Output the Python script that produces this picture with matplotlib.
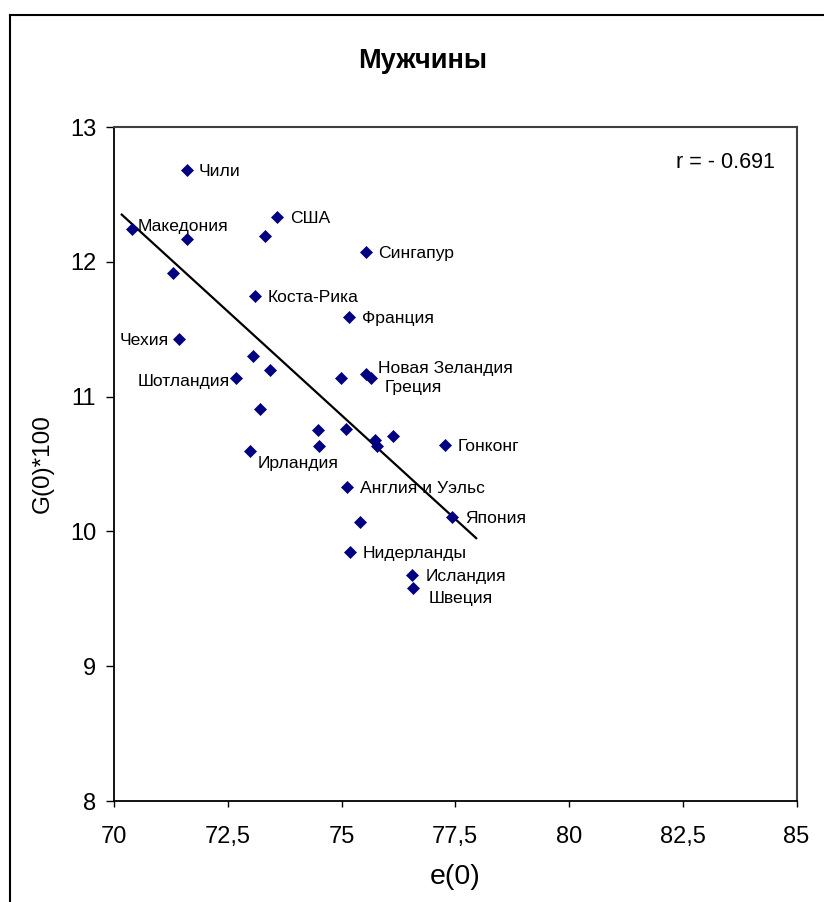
import numpy as np
import matplotlib
matplotlib.use("Agg")
import matplotlib.pyplot as plt
from matplotlib.lines import Line2D

# life expectancy e(0) and G(0)*100, men
e0 = [71.60, 70.40, 71.60, 73.58, 73.31, 75.53, 71.30, 73.09, 75.16, 71.42,
      73.06, 73.43, 72.68, 74.99, 75.53, 75.64, 73.20, 74.48, 75.10, 75.74,
      76.13, 74.51, 75.77, 72.98, 75.12, 75.41, 75.18, 76.56, 76.58, 77.27,
      77.43]
g0 = [12.68, 12.24, 12.17, 12.33, 12.19, 12.07, 11.92, 11.75, 11.59, 11.43,
      11.30, 11.20, 11.14, 11.14, 11.17, 11.14, 10.91, 10.75, 10.76, 10.68,
      10.71, 10.63, 10.63, 10.60, 10.33, 10.07, 9.85, 9.68, 9.58, 10.64,
      10.11]
names = ["Чили", "Македония", "", "США", "", "Сингапур", "", "Коста-Рика",
         "Франция", "Чехия", "", "", "Шотландия", "", "Новая Зеландия",
         "Греция", "", "", "", "", "", "", "", "Ирландия", "Англия и Уэльс",
         "", "Нидерланды", "Исландия", "Швеция", "Гонконг", "Япония"]

# trend line as drawn in the original
trend_x = [70.17, 77.96]
trend_y = [12.35, 9.95]
r_text = "r = - 0.691"

x_ticks = [70, 72.5, 75, 77.5, 80, 82.5, 85]
x_ticklabels = ["70", "72,5", "75", "77,5", "80", "82,5", "85"]
y_ticks = [8, 9, 10, 11, 12, 13]

# label placement: offset in pixels (dx, dy up) and alignment
label_pos = {
    "Чили": (12, 0, "left"), "Македония": (5, 4, "left"),
    "США": (13, 0, "left"), "Сингапур": (13, 0, "left"),
    "Коста-Рика": (13, 0, "left"), "Франция": (13, 0, "left"),
    "Чехия": (-10, 0, "right"), "Шотландия": (-6, -2, "right"),
    "Новая Зеландия": (12, 7, "left"), "Греция": (14, -8, "left"),
    "Ирландия": (8, -11, "left"), "Англия и Уэльс": (13, 0, "left"),
    "Нидерланды": (13, 0, "left"), "Исландия": (13, 0, "left"),
    "Швеция": (15, -9, "left"), "Гонконг": (13, 0, "left"),
    "Япония": (13, 0, "left"),
}

plt.rcParams["font.family"] = ["Liberation Sans", "DejaVu Sans"]
px = 0.72  # points per pixel at dpi 100

fig = plt.figure(figsize=(8.24, 9.02), dpi=100)
ax = fig.add_axes([114 / 824, 101 / 902, 682.5 / 824, 674 / 902])

ax.plot(trend_x, trend_y, color="black", lw=1.6, zorder=2)
ax.plot(e0, g0, ls="none", marker="D", ms=5.8, color="#000080",
        mec="#000080", mew=0.5, zorder=3)

for x, y, n in zip(e0, g0, names):
    if not n:
        continue
    dx, dy, ha = label_pos[n]
    ax.annotate(n, (x, y), xytext=(dx * px, dy * px), textcoords="offset points",
                ha=ha, va="center_baseline", fontsize=12.6, color="black")

ax.text(0.9685, 0.951, r_text, transform=ax.transAxes, ha="right",
        va="center_baseline", fontsize=15.5)

ax.set_xlim(70, 85)
ax.set_ylim(8, 13)
ax.set_xticks(x_ticks)
ax.set_xticklabels(x_ticklabels, fontsize=17)
ax.set_yticks(y_ticks)
ax.set_yticklabels([str(t) for t in y_ticks], fontsize=17)
ax.tick_params(axis="x", direction="out", length=6 * px, width=1, pad=19 * px)
ax.tick_params(axis="y", direction="out", length=8 * px, width=1, pad=10 * px)

for s in ["left", "bottom"]:
    ax.spines[s].set_linewidth(1.3)
    ax.spines[s].set_color("black")
for s in ["top", "right"]:
    ax.spines[s].set_linewidth(1.5)
    ax.spines[s].set_color("#404040")

fig.text(455 / 824, 1 - 877 / 902, "e(0)", ha="center", va="center",
         fontsize=20.5)
fig.text(43 / 824, 1 - 464 / 902, "G(0)*100", ha="center", va="center",
         rotation=90, fontsize=17.5)
fig.text(423 / 824, 1 - 57.5 / 902, "Мужчины", ha="center",
         va="center_baseline", fontsize=19.5, fontweight="bold")

# outer chart border
fig.add_artist(Line2D([10 / 824, 10 / 824], [0, 1 - 15 / 902],
                      transform=fig.transFigure, color="black", lw=1.5))
fig.add_artist(Line2D([10 / 824, 1], [1 - 15 / 902, 1 - 15 / 902],
                      transform=fig.transFigure, color="black", lw=1.5))

fig.savefig("out.png", dpi=100, facecolor="white")
